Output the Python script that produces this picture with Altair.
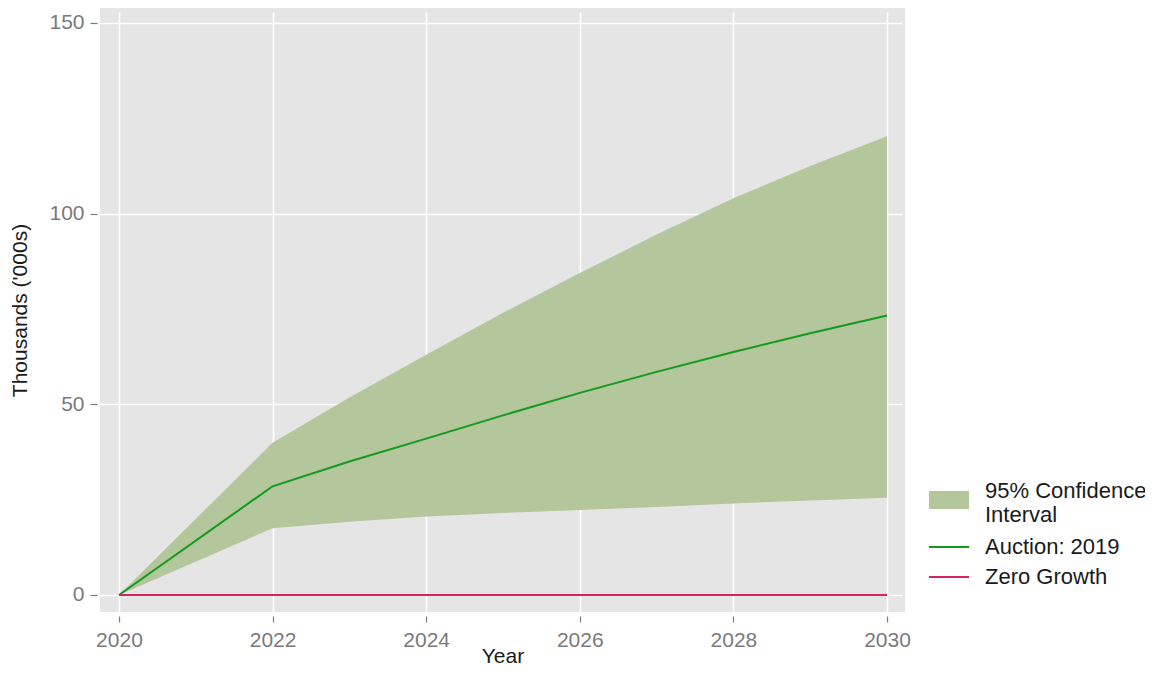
import altair as alt
import pandas as pd

# ---- data ----
years = [2020, 2022, 2023, 2024, 2025, 2026, 2027, 2028, 2029, 2030]
ci_lower = [0.0, 17.5, 19.2, 20.6, 21.5, 22.3, 23.1, 24.0, 24.8, 25.5]
ci_upper = [0.0, 39.9, 51.8, 63.0, 74.0, 84.4, 94.5, 104.0, 112.5, 120.3]
auction_2019 = [0.0, 28.5, 35.0, 41.0, 47.1, 53.0, 58.5, 63.7, 68.6, 73.3]
zero_growth = [0.0, 0.0, 0.0, 0.0, 0.0, 0.0, 0.0, 0.0, 0.0, 0.0]

x_ticks = [2020, 2022, 2024, 2026, 2028, 2030]
y_ticks = [0, 50, 100, 150]

band_label = "95% Confidence|Interval"
line_labels = ["Auction: 2019", "Zero Growth"]

FONT = "Liberation Sans"
GREY_TXT = "#7a7a7a"

band_df = pd.DataFrame({"year": years, "lower": ci_lower, "upper": ci_upper,
                        "band": [band_label] * len(years)})
line_df = pd.concat([
    pd.DataFrame({"year": years, "value": auction_2019, "series": line_labels[0]}),
    pd.DataFrame({"year": years, "value": zero_growth, "series": line_labels[1]}),
])

x_enc = alt.X("year:Q", scale=alt.Scale(domain=[2019.753, 2030.234], nice=False, zero=False),
              axis=alt.Axis(values=x_ticks, format="d", title="Year",
                            titleY=46, titleBaseline="alphabetic"))

area = alt.Chart(band_df).mark_area(opacity=1).encode(
    x=x_enc,
    y=alt.Y("lower:Q", scale=alt.Scale(domain=[-4.46, 153.9], nice=False),
            axis=alt.Axis(values=y_ticks, title="Thousands ('000s)")),
    y2="upper:Q",
    fill=alt.Fill("band:N",
                  scale=alt.Scale(domain=[band_label], range=["#B3C69C"]),
                  legend=alt.Legend(title=None, orient="none", legendX=838, legendY=472,
                                    symbolType="M-2,0H2V1.8H-2Z", symbolSize=400,
                                    symbolStrokeWidth=0, symbolOpacity=1,
                                    labelExpr="split(datum.label, '|')",
                                    labelOffset=25, labelFontSize=22, labelColor="#1a1a1a",
                                    labelFont=FONT, padding=0, labelLimit=300)),
)

lines = alt.Chart(line_df).mark_line(strokeWidth=2).encode(
    x=x_enc,
    y=alt.Y("value:Q"),
    color=alt.Color("series:N",
                    scale=alt.Scale(domain=line_labels, range=["#139A1B", "#D6245E"]),
                    legend=alt.Legend(title=None, orient="none", legendX=838, legendY=528,
                                      symbolType="M-2,0H2", symbolSize=400,
                                      symbolStrokeWidth=2, rowPadding=8,
                                      labelOffset=25, labelFontSize=22, labelColor="#1a1a1a",
                                      labelFont=FONT, padding=0, labelLimit=300)),
)

chart = alt.layer(area, lines).resolve_scale(fill="independent", color="independent").properties(
    width=805, height=604,
    autosize=alt.AutoSizeParams(type="none"),
    padding={"left": 92, "top": 0, "right": 240, "bottom": 55},
).configure_view(
    fill="#E5E5E5", stroke=None
).configure_axis(
    domain=False, grid=True, gridColor="#FFFFFF", gridWidth=1.6,
    labelFont=FONT, labelFontSize=21, labelColor=GREY_TXT,
    tickColor=GREY_TXT, tickWidth=1.2,
    titleFont=FONT, titleFontSize=21, titleColor="#1a1a1a", titleFontWeight="normal",
).configure_axisX(
    offset=4, tickSize=6, labelPadding=7,
).configure_axisY(
    offset=3, tickSize=7, labelPadding=6, titlePadding=18,
)

chart.save("out.html", embed_options={"renderer": "svg", "actions": False})
